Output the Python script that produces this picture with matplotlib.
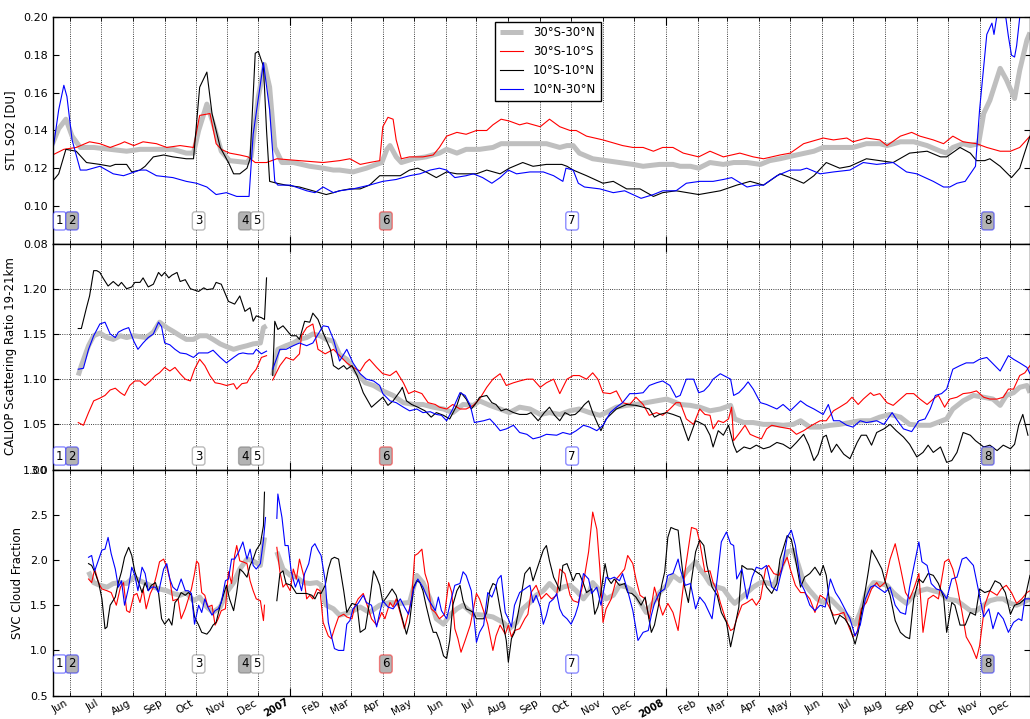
import matplotlib
matplotlib.use("Agg")
import matplotlib.pyplot as plt
import matplotlib.dates as mdates
import numpy as np
import pandas as pd

nan = np.nan

# x values are day offsets counted from START
START = np.datetime64("2006-05-15")
END = np.datetime64("2008-12-20")

regions = ["30°S-30°N", "30°S-10°S", "10°S-10°N", "10°N-30°N"]

###################################################################################################
# STL SO2 [DU]

so2_band = [(0, .133), (6, .141), (13, .146), (19, .137), (27, .131), (40, .131), (56, .130), (72, .129),
            (85, .130), (101, .130), (117, .130), (130, .128), (137, .128), (142, .140), (150, .154),
            (156, .144), (164, .129), (172, .124), (189, .123), (193, .126), (200, .158), (206, .175),
            (211, .163), (216, .131), (223, .123), (234, .123), (250, .121), (263, .120), (273, .119),
            (279, .119), (292, .118), (305, .120), (320, .123), (325, .130), (328, .132), (334, .126),
            (339, .123), (351, .125), (363, .126), (376, .128), (383, .130), (393, .128), (402, .130),
            (415, .130), (428, .131), (436, .133), (451, .133), (464, .133), (480, .133), (493, .131),
            (500, .132), (506, .132), (512, .128), (525, .125), (538, .124), (551, .123), (564, .122),
            (574, .121), (590, .122), (603, .122), (610, .121), (620, .121), (628, .120), (639, .123),
            (652, .122), (662, .123), (675, .123), (688, .122), (697, .124), (707, .125), (723, .127),
            (740, .129), (749, .131), (765, .131), (778, .131), (791, .133), (804, .133), (811, .132),
            (824, .134), (837, .134), (850, .132), (863, .129), (869, .128), (875, .131), (885, .133),
            (892, .132), (900, .133), (905, .149), (911, .156), (921, .173), (927, .167), (935, .157),
            (940, .172), (947, .188), (950, .192)]

so2_south = [(0, .127), (11, .130), (23, .131), (36, .134), (46, .133), (56, .131), (66, .133), (70, .134),
             (79, .132), (88, .134), (101, .133), (111, .131), (124, .132), (137, .131), (143, .148),
             (153, .149), (159, .133), (164, .130), (172, .128), (182, .127), (190, .126), (197, .123),
             (208, .123), (218, .125), (240, .124), (263, .123), (279, .124), (289, .125), (299, .122),
             (308, .123), (318, .124), (321, .142), (326, .147), (331, .146), (334, .135), (339, .125),
             (347, .126), (360, .126), (370, .127), (376, .131), (383, .137), (393, .139), (402, .138),
             (412, .140), (422, .140), (428, .143), (436, .146), (444, .145), (454, .143), (461, .144),
             (474, .142), (483, .146), (493, .142), (503, .140), (509, .140), (519, .137), (535, .135),
             (554, .132), (564, .131), (574, .131), (584, .129), (593, .131), (603, .131), (613, .128),
             (628, .126), (639, .129), (652, .126), (668, .128), (681, .126), (691, .125), (707, .127),
             (717, .128), (730, .133), (749, .136), (759, .135), (772, .136), (778, .134), (791, .136),
             (804, .135), (811, .132), (824, .137), (835, .139), (843, .137), (856, .135), (866, .133),
             (875, .137), (885, .134), (898, .133), (908, .131), (921, .129), (931, .129), (940, .131),
             (950, .137)]

so2_eq = [(0, .113), (6, .117), (13, .130), (23, .129), (33, .123), (46, .122), (56, .121), (61, .122),
          (72, .122), (77, .118), (85, .119), (90, .121), (98, .126), (108, .127), (117, .126), (130, .125),
          (137, .125), (143, .163), (150, .171), (155, .149), (163, .131), (171, .123), (176, .117),
          (182, .117), (189, .120), (192, .125), (197, .181), (200, .182), (205, .174), (208, .140),
          (211, .113), (218, .112), (227, .111), (240, .110), (253, .108), (266, .106), (273, .107),
          (279, .108), (289, .109), (299, .109), (308, .111), (318, .116), (331, .116), (338, .116),
          (347, .119), (355, .120), (363, .118), (373, .115), (383, .118), (393, .117), (402, .117),
          (412, .117), (422, .119), (435, .117), (444, .120), (457, .123), (467, .121), (480, .122),
          (495, .122), (500, .121), (506, .119), (519, .116), (535, .112), (545, .113), (558, .109),
          (571, .109), (584, .105), (593, .107), (606, .108), (628, .106), (649, .108), (665, .111),
          (678, .113), (691, .111), (707, .117), (717, .115), (730, .112), (740, .116), (752, .123),
          (765, .120), (775, .121), (791, .125), (804, .124), (817, .123), (833, .128), (850, .129),
          (863, .126), (869, .126), (882, .131), (892, .128), (898, .124), (906, .124), (911, .125),
          (921, .121), (932, .115), (940, .120), (950, .137)]

so2_north = [(0, .128), (6, .151), (11, .164), (14, .158), (19, .135), (27, .119), (33, .119), (46, .121),
             (59, .117), (69, .116), (85, .119), (91, .119), (101, .116), (117, .115), (130, .113),
             (140, .112), (150, .110), (159, .106), (169, .107), (179, .105), (191, .105), (195, .138),
             (205, .176), (211, .151), (216, .113), (219, .111), (231, .111), (247, .108), (255, .107),
             (263, .110), (273, .107), (279, .108), (292, .109), (308, .111), (321, .113), (334, .114),
             (347, .116), (357, .117), (367, .119), (376, .120), (383, .119), (391, .115), (402, .116),
             (409, .117), (418, .115), (427, .112), (435, .115), (443, .119), (451, .117), (464, .118),
             (477, .118), (487, .116), (496, .113), (499, .120), (506, .119), (511, .112), (517, .110),
             (532, .109), (545, .107), (556, .108), (564, .106), (572, .104), (584, .106), (593, .108),
             (606, .108), (616, .112), (629, .113), (642, .113), (652, .114), (660, .115), (675, .110),
             (684, .111), (691, .111), (704, .116), (717, .119), (727, .119), (733, .120), (746, .117),
             (759, .118), (775, .119), (788, .123), (801, .122), (817, .123), (830, .118), (840, .117),
             (856, .113), (866, .110), (872, .110), (879, .112), (887, .113), (897, .121), (901, .151),
             (908, .191), (913, .197), (915, .191), (919, .205), (924, .210), (929, .190), (932, .180),
             (935, .179), (937, .185), (940, .200), (947, .220), (950, .230)]

###################################################################################################
# CALIOP scattering ratio 19-21 km

cal_band = [(25, 1.104), (28, 1.115), (35, 1.137), (40, 1.148), (46, 1.151), (53, 1.146), (59, 1.144),
            (66, 1.148), (72, 1.146), (79, 1.148), (85, 1.147), (91, 1.146), (98, 1.152), (104, 1.163),
            (111, 1.157), (117, 1.153), (124, 1.148), (130, 1.144), (137, 1.144), (143, 1.148), (150, 1.148),
            (156, 1.144), (163, 1.139), (169, 1.136), (176, 1.133), (182, 1.135), (189, 1.137), (195, 1.139),
            (202, 1.140), (205, 1.157), (208, 1.159), (210, nan),
            (214, 1.104), (219, 1.133), (227, 1.137), (234, 1.140), (240, 1.144), (247, 1.146), (253, 1.150),
            (260, 1.148), (266, 1.144), (273, 1.142), (279, 1.127), (286, 1.122), (294, 1.109), (304, 1.096),
            (312, 1.093), (321, 1.087), (331, 1.082), (341, 1.074), (351, 1.072), (360, 1.072), (370, 1.069),
            (380, 1.067), (389, 1.063), (399, 1.072), (409, 1.071), (415, 1.076), (425, 1.071), (435, 1.067),
            (444, 1.063), (454, 1.069), (464, 1.067), (474, 1.061), (483, 1.063), (493, 1.061), (503, 1.065),
            (512, 1.067), (522, 1.063), (532, 1.060), (538, 1.063), (548, 1.069), (558, 1.071), (567, 1.072),
            (577, 1.074), (587, 1.076), (597, 1.078), (606, 1.074), (610, 1.072), (620, 1.071), (629, 1.069),
            (639, 1.065), (649, 1.067), (659, 1.071), (663, 1.056), (672, 1.052), (681, 1.052), (691, 1.050),
            (701, 1.050), (710, 1.049), (720, 1.050), (727, 1.054), (736, 1.047), (746, 1.047), (756, 1.049),
            (765, 1.050), (775, 1.052), (785, 1.054), (795, 1.054), (804, 1.058), (814, 1.061), (824, 1.058),
            (833, 1.050), (843, 1.049), (853, 1.049), (869, 1.056), (875, 1.067), (885, 1.076), (895, 1.082),
            (905, 1.080), (914, 1.078), (921, 1.071), (927, 1.082), (934, 1.085), (940, 1.091), (947, 1.093),
            (950, 1.085)]

cal_south = [(25, 1.052), (30, 1.049), (35, 1.063), (40, 1.076), (46, 1.079), (51, 1.082), (56, 1.088),
             (61, 1.090), (66, 1.085), (70, 1.082), (75, 1.093), (80, 1.098), (85, 1.098), (90, 1.093),
             (95, 1.098), (100, 1.104), (104, 1.107), (109, 1.113), (114, 1.109), (119, 1.113), (124, 1.106),
             (129, 1.100), (134, 1.098), (138, 1.111), (143, 1.122), (148, 1.115), (153, 1.104), (158, 1.096),
             (163, 1.095), (169, 1.093), (176, 1.095), (179, 1.089), (184, 1.095), (189, 1.096), (193, 1.104),
             (198, 1.111), (203, 1.124), (208, 1.126), (210, nan),
             (214, 1.099), (221, 1.115), (227, 1.124), (234, 1.121), (240, 1.128), (242, 1.148), (247, 1.157),
             (253, 1.161), (258, 1.133), (265, 1.128), (273, 1.133), (279, 1.126), (286, 1.118), (292, 1.113),
             (299, 1.109), (304, 1.118), (308, 1.122), (315, 1.113), (321, 1.106), (328, 1.104), (334, 1.109),
             (341, 1.096), (346, 1.084), (352, 1.087), (359, 1.084), (365, 1.074), (372, 1.072), (376, 1.069),
             (383, 1.067), (389, 1.072), (396, 1.067), (402, 1.067), (409, 1.071), (415, 1.078), (422, 1.091),
             (428, 1.100), (435, 1.106), (441, 1.093), (448, 1.096), (454, 1.098), (461, 1.100), (467, 1.100),
             (474, 1.091), (480, 1.096), (487, 1.100), (493, 1.084), (500, 1.100), (506, 1.104), (512, 1.104),
             (519, 1.100), (525, 1.107), (530, 1.100), (535, 1.085), (542, 1.084), (548, 1.087), (554, 1.074),
             (561, 1.072), (567, 1.080), (574, 1.072), (580, 1.060), (587, 1.063), (593, 1.060), (600, 1.067),
             (606, 1.074), (610, 1.074), (616, 1.056), (623, 1.050), (629, 1.067), (634, 1.061), (639, 1.060),
             (642, 1.045), (647, 1.054), (652, 1.052), (657, 1.056), (660, 1.069), (662, 1.032), (668, 1.041),
             (673, 1.049), (678, 1.039), (684, 1.036), (689, 1.034), (694, 1.045), (699, 1.049), (707, 1.047),
             (717, 1.045), (723, 1.039), (730, 1.043), (738, 1.049), (746, 1.054), (752, 1.054), (759, 1.065),
             (765, 1.069), (772, 1.074), (777, 1.080), (783, 1.072), (788, 1.078), (795, 1.085), (798, 1.082),
             (804, 1.084), (811, 1.074), (817, 1.071), (824, 1.078), (830, 1.084), (837, 1.084), (843, 1.078),
             (850, 1.072), (856, 1.078), (861, 1.082), (867, 1.069), (872, 1.078), (879, 1.080), (885, 1.084),
             (892, 1.085), (898, 1.087), (905, 1.080), (911, 1.078), (918, 1.078), (924, 1.080), (929, 1.089),
             (934, 1.089), (940, 1.104), (945, 1.107), (950, 1.115)]

cal_eq = [(25, 1.156), (28, 1.156), (33, 1.179), (36, 1.192), (40, 1.220), (43, 1.220), (46, 1.218),
          (49, 1.212), (54, 1.203), (59, 1.208), (64, 1.203), (67, 1.207), (72, 1.200), (77, 1.202),
          (80, 1.207), (85, 1.207), (88, 1.212), (93, 1.202), (98, 1.205), (103, 1.218), (106, 1.214),
          (109, 1.218), (113, 1.212), (116, 1.215), (121, 1.218), (124, 1.208), (129, 1.210), (134, 1.200),
          (142, 1.197), (147, 1.201), (150, 1.199), (156, 1.200), (159, 1.207), (164, 1.205), (171, 1.186),
          (177, 1.183), (182, 1.192), (187, 1.175), (192, 1.179), (195, 1.164), (198, 1.170), (203, 1.168),
          (206, 1.166), (208, 1.212), (210, nan),
          (214, 1.104), (216, 1.164), (219, 1.155), (224, 1.159), (227, 1.155), (232, 1.148), (237, 1.148),
          (240, 1.144), (245, 1.164), (250, 1.163), (253, 1.173), (258, 1.166), (261, 1.157), (265, 1.146),
          (270, 1.133), (273, 1.115), (278, 1.111), (283, 1.115), (286, 1.111), (291, 1.115), (296, 1.104),
          (302, 1.085), (310, 1.069), (315, 1.074), (321, 1.080), (326, 1.071), (331, 1.076), (338, 1.087),
          (340, 1.091), (344, 1.076), (349, 1.072), (355, 1.069), (362, 1.065), (368, 1.058), (373, 1.063),
          (380, 1.060), (386, 1.056), (393, 1.071), (397, 1.085), (402, 1.078), (407, 1.067), (412, 1.074),
          (415, 1.080), (422, 1.082), (427, 1.074), (431, 1.072), (436, 1.065), (441, 1.067), (448, 1.063),
          (454, 1.061), (461, 1.061), (465, 1.063), (472, 1.054), (478, 1.063), (483, 1.069), (488, 1.060),
          (493, 1.054), (498, 1.063), (503, 1.060), (508, 1.061), (512, 1.065), (517, 1.072), (521, 1.076),
          (525, 1.063), (530, 1.050), (533, 1.043), (538, 1.056), (548, 1.067), (558, 1.072), (567, 1.071),
          (574, 1.069), (580, 1.067), (585, 1.058), (590, 1.061), (597, 1.063), (603, 1.061), (610, 1.058),
          (618, 1.032), (625, 1.054), (629, 1.052), (634, 1.049), (639, 1.038), (642, 1.025), (647, 1.043),
          (652, 1.038), (657, 1.049), (662, 1.027), (665, 1.019), (672, 1.025), (678, 1.023), (684, 1.027),
          (691, 1.023), (697, 1.025), (704, 1.030), (710, 1.028), (717, 1.023), (723, 1.030), (730, 1.039),
          (735, 1.027), (740, 1.010), (744, 1.017), (749, 1.036), (752, 1.038), (757, 1.019), (762, 1.028),
          (769, 1.017), (775, 1.012), (782, 1.030), (786, 1.038), (791, 1.038), (796, 1.027), (801, 1.041),
          (808, 1.045), (814, 1.050), (820, 1.043), (827, 1.036), (833, 1.028), (840, 1.014), (846, 1.019),
          (851, 1.027), (856, 1.019), (863, 1.025), (869, 1.008), (874, 1.010), (879, 1.019), (885, 1.041),
          (892, 1.038), (897, 1.032), (905, 1.025), (911, 1.027), (918, 1.021), (924, 1.027), (931, 1.023),
          (935, 1.028), (939, 1.049), (943, 1.061), (948, 1.038)]

cal_north = [(25, 1.111), (30, 1.112), (35, 1.133), (40, 1.148), (46, 1.161), (51, 1.163), (56, 1.150),
             (61, 1.146), (64, 1.152), (69, 1.155), (74, 1.157), (79, 1.142), (83, 1.133), (88, 1.140),
             (93, 1.146), (98, 1.150), (103, 1.163), (106, 1.158), (109, 1.140), (114, 1.138), (119, 1.133),
             (124, 1.129), (130, 1.128), (137, 1.124), (142, 1.129), (147, 1.129), (151, 1.129), (156, 1.132),
             (163, 1.124), (169, 1.118), (176, 1.124), (181, 1.128), (185, 1.129), (190, 1.128), (195, 1.128),
             (198, 1.133), (203, 1.128), (208, 1.131), (210, nan),
             (214, 1.111), (221, 1.133), (227, 1.133), (234, 1.137), (240, 1.140), (247, 1.137), (253, 1.140),
             (263, 1.159), (268, 1.158), (273, 1.144), (279, 1.120), (286, 1.133), (292, 1.118), (299, 1.106),
             (305, 1.100), (312, 1.098), (318, 1.093), (321, 1.084), (328, 1.076), (334, 1.074), (341, 1.069),
             (347, 1.065), (354, 1.067), (360, 1.063), (367, 1.064), (373, 1.061), (378, 1.060), (383, 1.054),
             (389, 1.067), (396, 1.085), (401, 1.082), (406, 1.071), (410, 1.052), (419, 1.054), (425, 1.056),
             (430, 1.050), (435, 1.043), (441, 1.045), (448, 1.049), (454, 1.041), (461, 1.039), (467, 1.034),
             (474, 1.036), (480, 1.039), (490, 1.038), (496, 1.041), (503, 1.039), (509, 1.043), (516, 1.049),
             (522, 1.047), (529, 1.043), (535, 1.049), (542, 1.063), (548, 1.069), (554, 1.074), (561, 1.084),
             (567, 1.084), (574, 1.085), (580, 1.093), (587, 1.096), (593, 1.098), (600, 1.093), (606, 1.080),
             (610, 1.082), (616, 1.100), (623, 1.100), (628, 1.085), (633, 1.087), (638, 1.093), (642, 1.100),
             (649, 1.106), (659, 1.100), (662, 1.082), (667, 1.085), (672, 1.091), (676, 1.097), (681, 1.089),
             (688, 1.074), (694, 1.072), (704, 1.067), (710, 1.072), (717, 1.065), (727, 1.076), (733, 1.071),
             (740, 1.067), (749, 1.061), (754, 1.072), (759, 1.054), (765, 1.054), (772, 1.049), (778, 1.047),
             (785, 1.054), (791, 1.052), (801, 1.054), (808, 1.050), (816, 1.063), (820, 1.056), (827, 1.045),
             (835, 1.042), (842, 1.054), (848, 1.056), (853, 1.067), (858, 1.082), (864, 1.084), (869, 1.089),
             (875, 1.111), (882, 1.115), (888, 1.118), (895, 1.118), (901, 1.122), (908, 1.124), (914, 1.117),
             (921, 1.109), (929, 1.126), (934, 1.122), (940, 1.118), (947, 1.113), (950, 1.106)]

###################################################################################################
# SVC cloud fraction

svc_band = [(35, 1.87), (40, 1.75), (46, 1.72), (53, 1.70), (59, 1.74), (66, 1.75), (72, 1.74), (79, 1.81),
            (85, 1.77), (91, 1.74), (98, 1.70), (104, 1.68), (111, 1.66), (117, 1.63), (124, 1.61),
            (130, 1.64), (137, 1.55), (143, 1.59), (150, 1.48), (156, 1.42), (163, 1.48), (169, 1.64),
            (176, 1.75), (182, 1.90), (189, 2.01), (195, 1.99), (202, 1.94), (206, 2.25), (210, nan),
            (218, 2.09), (224, 1.90), (231, 1.83), (237, 1.81), (244, 1.75), (250, 1.74), (257, 1.75),
            (261, 1.72), (266, 1.50), (273, 1.46), (279, 1.39), (289, 1.42), (299, 1.48), (308, 1.42),
            (318, 1.50), (328, 1.53), (338, 1.52), (347, 1.53), (354, 1.83), (360, 1.75), (367, 1.57),
            (373, 1.35), (380, 1.29), (386, 1.39), (393, 1.46), (399, 1.50), (409, 1.40), (419, 1.39),
            (428, 1.37), (438, 1.31), (444, 1.24), (451, 1.31), (457, 1.46), (464, 1.53), (470, 1.61),
            (477, 1.66), (483, 1.74), (490, 1.66), (496, 1.70), (503, 1.72), (509, 1.66), (516, 1.57),
            (522, 1.66), (525, 1.75), (532, 1.66), (538, 1.57), (545, 1.61), (551, 1.72), (558, 1.70),
            (564, 1.66), (571, 1.53), (577, 1.42), (584, 1.53), (590, 1.64), (597, 1.72), (603, 1.83),
            (610, 1.77), (616, 1.87), (625, 1.98), (629, 1.90), (634, 1.83), (639, 1.74), (646, 1.70),
            (652, 1.68), (659, 1.57), (663, 1.52), (668, 1.57), (675, 1.64), (681, 1.70), (688, 1.75),
            (694, 1.75), (701, 1.72), (707, 1.88), (714, 2.09), (720, 2.11), (725, 1.94), (730, 1.75),
            (736, 1.66), (743, 1.57), (749, 1.53), (756, 1.57), (762, 1.50), (769, 1.42), (775, 1.35),
            (780, 1.29), (785, 1.42), (791, 1.64), (798, 1.75), (804, 1.74), (811, 1.72), (817, 1.64),
            (824, 1.57), (830, 1.52), (837, 1.61), (843, 1.66), (850, 1.68), (856, 1.66), (863, 1.64),
            (869, 1.57), (879, 1.55), (885, 1.50), (892, 1.44), (898, 1.44), (905, 1.50), (911, 1.55),
            (918, 1.57), (924, 1.57), (931, 1.52), (937, 1.50), (943, 1.53), (950, 1.57)]

svc_south = [(35, 1.79), (38, 1.75), (41, 1.90), (45, 1.74), (48, 1.68), (53, 1.66), (57, 1.64), (62, 1.50),
             (66, 1.70), (69, 1.75), (72, 1.44), (75, 1.42), (79, 1.61), (82, 1.63), (85, 1.53), (88, 1.68),
             (91, 1.46), (95, 1.63), (98, 1.70), (101, 1.83), (104, 1.98), (108, 2.01), (111, 1.92),
             (114, 1.79), (117, 1.55), (122, 1.57), (125, 1.35), (129, 1.46), (132, 1.57), (135, 1.68),
             (138, 1.85), (140, 1.99), (142, 1.96), (145, 1.64), (148, 1.61), (151, 1.48), (155, 1.50),
             (158, 1.28), (161, 1.35), (164, 1.44), (168, 1.46), (171, 1.87), (174, 1.74), (177, 2.05),
             (179, 2.16), (182, 1.99), (185, 1.98), (189, 1.96), (192, 1.77), (195, 1.66), (198, 1.57),
             (202, 1.55), (205, 1.33), (206, 1.50), (210, nan),
             (218, 2.14), (221, 1.87), (224, 1.70), (227, 1.74), (231, 1.66), (234, 1.90), (237, 1.79),
             (240, 2.01), (244, 1.83), (247, 1.57), (250, 1.61), (253, 1.57), (257, 1.68), (260, 1.66),
             (263, 1.31), (268, 1.16), (271, 1.13), (274, 1.24), (278, 1.37), (283, 1.40), (286, 1.37),
             (291, 1.35), (294, 1.50), (297, 1.57), (302, 1.63), (307, 1.46), (310, 1.35), (315, 1.28),
             (320, 1.42), (323, 1.35), (328, 1.53), (331, 1.48), (334, 1.57), (339, 1.37), (342, 1.24),
             (346, 1.42), (349, 1.57), (352, 2.05), (355, 2.07), (359, 2.12), (362, 1.85), (365, 1.74),
             (368, 1.46), (372, 1.42), (376, 1.35), (381, 1.40), (385, 1.75), (388, 1.64), (391, 1.24),
             (394, 1.13), (397, 0.98), (401, 1.11), (406, 1.28), (412, 1.63), (415, 1.57), (420, 1.40),
             (423, 1.29), (428, 1.00), (431, 1.16), (435, 1.28), (440, 1.18), (443, 1.28), (446, 1.15),
             (449, 1.22), (454, 1.24), (459, 1.35), (462, 1.40), (465, 1.64), (470, 1.72), (475, 1.57),
             (480, 1.63), (485, 1.57), (490, 1.61), (493, 1.90), (498, 1.85), (503, 1.61), (506, 1.55),
             (511, 1.53), (516, 1.75), (521, 2.09), (525, 2.53), (529, 2.34), (532, 1.90), (535, 1.31),
             (538, 1.46), (543, 1.57), (548, 1.79), (551, 1.83), (556, 1.90), (559, 2.05), (564, 1.96),
             (567, 1.79), (571, 1.61), (576, 1.57), (580, 1.35), (585, 1.70), (590, 1.50), (593, 1.39),
             (598, 1.52), (603, 1.42), (608, 1.22), (615, 1.90), (621, 2.36), (626, 2.34), (629, 2.20),
             (634, 1.87), (639, 1.88), (642, 1.75), (646, 1.66), (649, 1.53), (654, 1.35), (659, 1.22),
             (662, 1.24), (665, 1.35), (670, 1.50), (675, 1.53), (680, 1.57), (684, 1.50), (688, 1.57),
             (693, 1.90), (696, 1.94), (701, 1.85), (706, 1.83), (710, 1.94), (714, 2.03), (717, 1.90),
             (722, 1.72), (727, 1.64), (731, 1.64), (736, 1.57), (741, 1.42), (746, 1.61), (751, 1.57),
             (754, 1.50), (759, 1.39), (764, 1.40), (769, 1.42), (774, 1.26), (778, 1.15), (782, 1.20),
             (786, 1.46), (791, 1.53), (796, 1.68), (801, 1.75), (804, 1.70), (809, 1.75), (814, 2.01),
             (819, 2.18), (824, 1.92), (829, 1.64), (833, 1.57), (837, 1.68), (842, 1.85), (846, 1.20),
             (851, 1.57), (856, 1.61), (861, 1.57), (867, 1.98), (871, 2.01), (875, 1.90), (879, 1.72),
             (884, 1.42), (888, 1.15), (893, 1.05), (898, 0.91), (901, 1.05), (906, 1.50), (911, 1.66),
             (918, 1.61), (922, 1.68), (927, 1.72), (932, 1.64), (937, 1.52), (942, 1.57), (947, 1.64),
             (950, 1.66)]

svc_eq = [(35, 1.96), (38, 1.94), (41, 1.87), (45, 1.74), (48, 1.57), (51, 1.24), (53, 1.26), (54, 1.35),
          (56, 1.50), (61, 1.59), (64, 1.75), (67, 1.87), (70, 2.03), (74, 2.14), (77, 2.05), (80, 1.87),
          (83, 1.77), (87, 1.64), (90, 1.75), (93, 1.66), (96, 1.72), (100, 1.75), (103, 1.64), (106, 1.35),
          (109, 1.29), (113, 1.35), (116, 1.28), (119, 1.53), (122, 1.57), (125, 1.64), (129, 1.61),
          (132, 1.64), (135, 1.61), (138, 1.37), (142, 1.28), (145, 1.20), (150, 1.18), (153, 1.22),
          (156, 1.28), (159, 1.31), (163, 1.50), (166, 1.61), (169, 1.72), (172, 1.57), (176, 1.44),
          (179, 1.64), (182, 1.90), (185, 1.87), (189, 1.81), (192, 1.94), (195, 2.01), (198, 2.11),
          (202, 2.18), (205, 2.38), (206, 2.75), (210, nan),
          (218, 1.55), (221, 1.85), (224, 1.88), (227, 1.74), (232, 1.72), (237, 1.63), (242, 1.63),
          (247, 1.63), (252, 1.61), (255, 1.57), (258, 1.64), (261, 1.63), (265, 1.72), (268, 1.90),
          (271, 2.01), (274, 2.03), (278, 2.01), (283, 1.66), (286, 1.42), (291, 1.52), (296, 1.50),
          (299, 1.20), (304, 1.24), (308, 1.53), (312, 1.88), (315, 1.81), (318, 1.72), (321, 1.53),
          (326, 1.61), (330, 1.68), (334, 1.61), (339, 1.39), (344, 1.18), (347, 1.31), (351, 1.70),
          (354, 1.77), (357, 1.75), (360, 1.66), (363, 1.50), (367, 1.31), (370, 1.20), (373, 1.20),
          (376, 1.11), (380, 0.94), (383, 0.91), (386, 1.11), (389, 1.50), (393, 1.66), (396, 1.72),
          (399, 1.55), (402, 1.46), (406, 1.44), (409, 1.42), (412, 1.35), (415, 1.35), (419, 1.35),
          (422, 1.42), (425, 1.66), (428, 1.74), (431, 1.72), (435, 1.46), (438, 1.29), (441, 1.11),
          (443, 0.87), (446, 1.13), (449, 1.20), (454, 1.50), (459, 1.85), (464, 1.92), (467, 1.77),
          (472, 1.94), (477, 2.11), (480, 2.16), (483, 1.99), (487, 1.81), (490, 1.74), (493, 1.66),
          (496, 1.94), (500, 1.96), (503, 1.87), (506, 1.77), (509, 1.85), (512, 1.85), (516, 1.74),
          (519, 1.64), (524, 1.68), (527, 1.40), (530, 1.48), (533, 1.64), (537, 1.96), (540, 1.79),
          (543, 1.74), (546, 1.79), (551, 1.72), (556, 1.74), (559, 1.64), (563, 1.63), (567, 1.59),
          (572, 1.50), (576, 1.59), (579, 1.39), (582, 1.20), (585, 1.28), (589, 1.50), (592, 1.72),
          (595, 1.87), (598, 2.25), (601, 2.36), (605, 2.34), (608, 2.33), (611, 2.01), (614, 1.72),
          (618, 1.53), (620, 1.70), (625, 2.09), (629, 2.22), (633, 2.16), (636, 1.94), (641, 1.70),
          (646, 1.61), (650, 1.42), (655, 1.31), (659, 1.04), (662, 1.20), (667, 1.48), (670, 1.94),
          (675, 1.90), (680, 1.90), (684, 1.87), (689, 1.83), (694, 1.70), (699, 1.63), (704, 1.74),
          (707, 2.01), (710, 2.12), (714, 2.27), (718, 2.23), (722, 2.01), (727, 1.70), (731, 1.81),
          (736, 1.85), (741, 1.92), (746, 1.83), (749, 1.94), (752, 1.83), (756, 1.46), (761, 1.29),
          (765, 1.39), (770, 1.35), (775, 1.26), (780, 1.07), (783, 1.20), (788, 1.53), (793, 1.88),
          (796, 2.11), (801, 2.01), (806, 1.90), (809, 1.77), (814, 1.61), (819, 1.33), (824, 1.20),
          (829, 1.15), (833, 1.13), (837, 1.57), (842, 1.79), (846, 1.75), (851, 1.85), (856, 1.83),
          (861, 1.74), (866, 1.59), (869, 1.20), (874, 1.53), (877, 1.50), (882, 1.28), (887, 1.28),
          (892, 1.42), (897, 1.39), (901, 1.68), (906, 1.64), (911, 1.66), (916, 1.77), (921, 1.74),
          (926, 1.64), (931, 1.40), (935, 1.50), (940, 1.52), (945, 1.57), (950, 1.83)]

svc_north = [(35, 2.03), (38, 2.05), (41, 1.88), (45, 2.01), (48, 2.11), (51, 2.12), (54, 2.25), (57, 2.07),
             (61, 1.90), (64, 1.70), (67, 1.77), (70, 1.50), (74, 1.70), (77, 1.92), (80, 1.83), (83, 1.66),
             (87, 1.92), (90, 1.85), (93, 1.66), (96, 1.70), (100, 1.70), (103, 1.64), (108, 1.90),
             (111, 1.96), (114, 1.79), (117, 1.70), (121, 1.66), (125, 1.79), (129, 1.66), (132, 1.66),
             (135, 1.63), (138, 1.29), (142, 1.50), (145, 1.42), (148, 1.57), (151, 1.48), (155, 1.39),
             (158, 1.44), (161, 1.46), (164, 1.53), (168, 1.77), (171, 1.79), (174, 2.01), (177, 2.01),
             (181, 2.09), (185, 2.20), (189, 2.01), (192, 2.12), (195, 1.94), (198, 1.90), (202, 1.96),
             (205, 2.22), (207, 2.47), (210, nan),
             (218, 2.46), (219, 2.73), (223, 2.47), (226, 2.16), (229, 2.16), (232, 1.87), (236, 1.70),
             (239, 1.79), (242, 1.66), (245, 1.85), (249, 1.96), (252, 2.14), (255, 2.18), (258, 2.11),
             (261, 2.05), (265, 1.77), (268, 1.31), (271, 1.16), (274, 1.02), (278, 1.00), (283, 1.00),
             (286, 1.29), (289, 1.33), (292, 1.46), (297, 1.52), (302, 1.61), (305, 1.53), (310, 1.50),
             (315, 1.26), (318, 1.42), (321, 1.55), (326, 1.48), (331, 1.46), (338, 1.57), (342, 1.48),
             (346, 1.40), (351, 1.68), (355, 1.79), (360, 1.70), (365, 1.57), (372, 1.44), (375, 1.59),
             (378, 1.44), (383, 1.35), (388, 1.59), (391, 1.72), (396, 1.74), (399, 1.87), (402, 1.83),
             (407, 1.66), (412, 1.09), (415, 1.20), (419, 1.28), (423, 1.64), (427, 1.59), (430, 1.68),
             (433, 1.79), (436, 1.83), (440, 1.42), (443, 1.35), (446, 1.26), (449, 1.50), (454, 1.64),
             (459, 1.68), (464, 1.72), (467, 1.53), (470, 1.61), (474, 1.48), (477, 1.29), (480, 1.39),
             (483, 1.53), (487, 1.57), (490, 1.63), (493, 1.46), (496, 1.39), (500, 1.35), (504, 1.29),
             (508, 1.39), (511, 1.50), (516, 1.85), (521, 1.79), (524, 1.63), (529, 1.70), (533, 1.50),
             (538, 1.81), (542, 1.79), (546, 1.81), (551, 1.77), (554, 1.85), (559, 1.66), (564, 1.44),
             (569, 1.11), (574, 1.20), (579, 1.22), (582, 1.39), (585, 1.52), (590, 1.64), (595, 1.68),
             (598, 1.83), (603, 1.85), (608, 2.01), (610, 1.90), (615, 1.72), (620, 1.74), (625, 1.46),
             (629, 1.59), (634, 1.52), (641, 1.35), (646, 1.79), (650, 2.20), (655, 2.31), (659, 2.18),
             (662, 2.16), (665, 1.79), (670, 1.90), (675, 1.57), (680, 1.81), (684, 1.92), (689, 1.90),
             (694, 1.94), (699, 1.70), (704, 1.66), (709, 1.90), (714, 2.25), (718, 2.33), (722, 2.16),
             (727, 1.75), (731, 1.66), (736, 1.50), (741, 1.44), (746, 1.50), (751, 1.48), (756, 1.79),
             (761, 1.64), (765, 1.57), (770, 1.46), (775, 1.35), (780, 1.16), (785, 1.28), (790, 1.57),
             (795, 1.70), (799, 1.72), (804, 1.68), (809, 1.64), (814, 1.70), (819, 1.50), (824, 1.42),
             (829, 1.40), (833, 1.70), (838, 1.98), (842, 2.20), (845, 1.98), (850, 1.94), (854, 1.74),
             (859, 1.68), (864, 1.66), (869, 1.57), (874, 1.79), (879, 1.81), (884, 2.01), (888, 2.03),
             (895, 1.94), (900, 1.66), (905, 1.37), (910, 1.46), (914, 1.24), (919, 1.42), (924, 1.35),
             (929, 1.20), (934, 1.31), (939, 1.35), (942, 1.33), (945, 1.57), (950, 1.57)]

###################################################################################################
# numbered events

event_dates = ["2006-05-22", "2006-06-03", "2006-10-04", "2006-11-18", "2006-11-30",
               "2007-04-04", "2007-10-02", "2008-11-09"]
event_labels = ["1", "2", "3", "4", "5", "6", "7", "8"]
event_face = ["white", "0.7", "white", "0.7", "white", "0.7", "white", "0.7"]
event_edge = ["blue", "blue", "0.4", "0.4", "0.4", "red", "blue", "blue"]

###################################################################################################


def to_xy(pairs):
    """Turn (day offset, value) pairs into dates and values."""
    arr = np.array(pairs, dtype=float)
    days = arr[:, 0].astype(int).astype("timedelta64[D]")
    return START + days, arr[:, 1]


def draw_panel(ax, band, south, eq, north):
    styles = [(band, dict(color="0.75", lw=3.6, solid_capstyle="butt")),
              (south, dict(color="red", lw=0.8)),
              (eq, dict(color="black", lw=0.8)),
              (north, dict(color="blue", lw=0.8))]
    for (pairs, kw), name in zip(styles, regions):
        x, y = to_xy(pairs)
        ax.plot(x, y, label=name, **kw)


def draw_events(ax, y):
    for d, lab, fc, ec in zip(event_dates, event_labels, event_face, event_edge):
        edge = matplotlib.colors.to_rgba(ec, 0.45)
        ax.text(np.datetime64(d), y, lab, ha="center", va="center", fontsize=8.5, zorder=5,
                bbox=dict(boxstyle="round,pad=0.22", fc=fc, ec=edge, lw=1.0))


plt.rcParams["font.family"] = "DejaVu Sans"
plt.rcParams["font.size"] = 8

fig, (ax1, ax2, ax3) = plt.subplots(3, 1, sharex=True, figsize=(10.30, 7.19), dpi=100,
                                    gridspec_kw=dict(hspace=0))
fig.subplots_adjust(left=0.051, right=1.0, top=0.9757, bottom=0.0325)

draw_panel(ax1, so2_band, so2_south, so2_eq, so2_north)
draw_panel(ax2, cal_band, cal_south, cal_eq, cal_north)
draw_panel(ax3, svc_band, svc_south, svc_eq, svc_north)

draw_events(ax1, 0.092)
draw_events(ax2, 1.015)
draw_events(ax3, 0.85)

ax1.set_ylim(0.08, 0.20)
ax1.set_yticks(np.arange(0.08, 0.2001, 0.02))
ax1.yaxis.set_major_formatter(matplotlib.ticker.FormatStrFormatter("%.2f"))
ax1.set_ylabel("STL SO2 [DU]", fontsize=8.5)

ax2.set_ylim(1.00, 1.25)
ax2.set_yticks([1.00, 1.05, 1.10, 1.15, 1.20])
ax2.yaxis.set_major_formatter(matplotlib.ticker.FormatStrFormatter("%.2f"))
ax2.set_ylabel("CALIOP Scattering Ratio 19-21km", fontsize=8.5)
ax2.grid(True, axis="y", linestyle=":", color="k", linewidth=0.6)

ax3.set_ylim(0.5, 3.0)
ax3.set_yticks(np.arange(0.5, 3.01, 0.5))
ax3.yaxis.set_major_formatter(matplotlib.ticker.FormatStrFormatter("%.1f"))
ax3.set_ylabel("SVC Cloud Fraction", fontsize=8.5)

months = pd.date_range("2006-06-01", "2008-12-01", freq="MS")
minor = [m for m in months if m.month != 1]
major = [m for m in months if m.month == 1]
ax3.set_xticks(mdates.date2num(major), labels=[m.strftime("%Y") for m in major],
               fontweight="bold", fontsize=7, rotation=30, ha="right")
ax3.set_xticks(mdates.date2num(minor), labels=[m.strftime("%b") for m in minor], minor=True,
               fontsize=7.5, rotation=30, ha="right")
ax3.set_xlim(START, END)

for ax in (ax1, ax2, ax3):
    ax.grid(True, which="both", axis="x", linestyle=":", color="k", linewidth=0.6)
    ax.tick_params(direction="in", which="both", top=True, right=True)
    ax.tick_params(axis="x", which="major", length=6, pad=1)
    ax.tick_params(axis="x", which="minor", length=3, pad=1.5)
    ax.tick_params(axis="y", length=4)
    for s in ax.spines.values():
        s.set_linewidth(1.0)

ax1.legend(loc="upper left", bbox_to_anchor=(0.4527, 0.982), borderaxespad=0, fontsize=8.5,
           fancybox=False, edgecolor="k", framealpha=1)

fig.savefig("out.png", dpi=100)
